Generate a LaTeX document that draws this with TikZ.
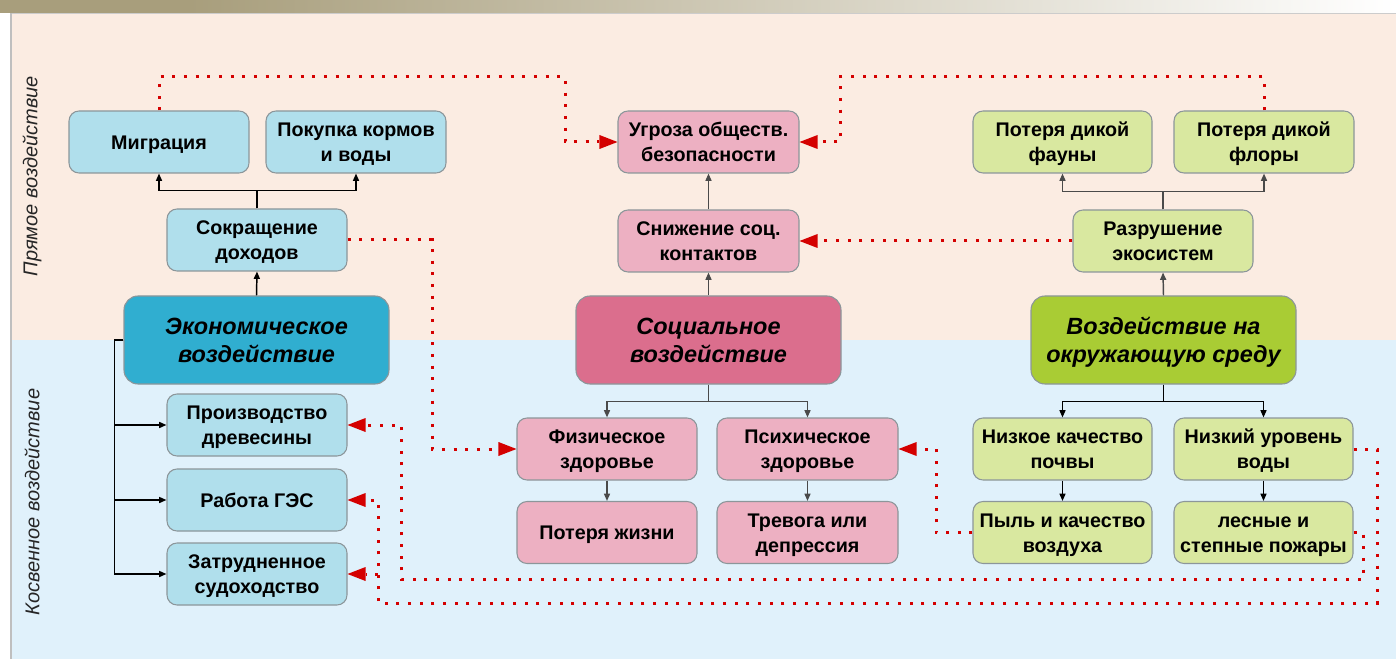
\documentclass[tikz,border=0pt]{standalone}
\usepackage{fontspec}
\setmainfont{Liberation Sans}
\usetikzlibrary{arrows.meta}
\definecolor{olive}{RGB}{168,158,124}
\definecolor{peach}{RGB}{251,236,226}
\definecolor{skyb}{RGB}{224,241,251}
\definecolor{lblue}{RGB}{176,223,236}
\definecolor{econc}{RGB}{48,174,208}
\definecolor{lpink}{RGB}{237,176,194}
\definecolor{socc}{RGB}{219,110,141}
\definecolor{lgreen}{RGB}{217,232,160}
\definecolor{envc}{RGB}{169,204,52}
\definecolor{bord}{RGB}{140,150,154}
\definecolor{dred}{RGB}{212,0,0}
\definecolor{darkg}{RGB}{74,74,74}
\begin{document}
\begin{tikzpicture}[x=0.75pt,y=-0.75pt,
  box/.style={draw=bord, line width=0.8pt, rounded corners=7.5pt, minimum width=135pt, minimum height=46.5pt, inner sep=0pt, align=center, text=black, font=\bfseries\fontsize{14.8}{18.75}\selectfont, text height=29.4pt, text depth=0pt},
  one/.style={text height=10.65pt},
  mainbox/.style={draw=bord, line width=0.8pt, rounded corners=10.5pt, minimum width=198.75pt, minimum height=66pt, inner sep=0pt, align=center, text=black, font=\bfseries\itshape\fontsize{17.6}{20.5}\selectfont, text height=33.2pt, text depth=0pt},
  bbox/.style={box, fill=lblue},
  pbox/.style={box, fill=lpink},
  gbox/.style={box, fill=lgreen},
  ar/.style={-{Triangle[length=5.5pt,width=4.5pt]}, line width=1.1pt},
  dots/.style={draw=dred, line width=2.25pt, dash pattern=on 2.25pt off 6.5pt, -{Triangle[length=13.5pt,width=10.5pt,line width=0pt]}},
  side/.style={rotate=90, font=\itshape\fontsize{15}{18}\selectfont, text=black!85}
]
\useasboundingbox (0,0) rectangle (1396,659);
% background
\fill[white] (0,0) rectangle (1396,659);
\fill[olive] (0,0) rectangle (190,13);
\shade[left color=olive, right color=white] (189,0) rectangle (1396,13);
\fill[peach] (11,13) rectangle (1396,340);
\fill[skyb] (11,340) rectangle (1396,659);
\draw[black!20, line width=0.8pt] (11,13.5) -- (1396,13.5);
\draw[black!25, line width=0.8pt] (11,13) -- (11,659);
% side labels
\node[side] (lab1) at (32,176) {Прямое воздействие};
\node[side] (lab2) at (32,502) {Косвенное воздействие};
% economic
\node[bbox, one] (mig) at (159,142) {Миграция};
\node[bbox] (pok) at (356,142) {Покупка кормов\\и воды};
\node[bbox] (sok) at (257,240) {Сокращение\\доходов};
\node[mainbox, fill=econc] (econ) at (256.5,340) {Экономическое\\воздействие};
\node[bbox] (proiz) at (257,425) {Производство\\древесины};
\node[bbox, one] (ges) at (257,500) {Работа ГЭС};
\node[bbox] (sud) at (257,574) {Затрудненное\\судоходство};
% social
\node[pbox, minimum width=135.75pt] (ugr) at (708.5,142) {Угроза обществ.\\безопасности};
\node[pbox, minimum width=135.75pt] (sni) at (708.5,241) {Снижение соц.\\контактов};
\node[mainbox, fill=socc] (soc) at (708.5,340) {Социальное\\воздействие};
\node[pbox] (fiz) at (607,449) {Физическое\\здоровье};
\node[pbox, minimum width=135.75pt] (psi) at (807.5,449) {Психическое\\здоровье};
\node[pbox, one] (pot) at (607,532.5) {Потеря жизни};
\node[pbox, minimum width=135.75pt] (trev) at (807.5,532.5) {Тревога или\\депрессия};
% environment
\node[gbox, minimum width=134.25pt] (fau) at (1062.5,142) {Потеря дикой\\фауны};
\node[gbox] (flo) at (1264,142) {Потеря дикой\\флоры};
\node[gbox] (raz) at (1163,241) {Разрушение\\экосистем};
\node[mainbox, fill=envc] (env) at (1163.5,340) {Воздействие на\\окружающую среду};
\node[gbox, minimum width=134.25pt] (poch) at (1062.5,449) {Низкое качество\\почвы};
\node[gbox, minimum width=134.25pt] (vod) at (1263.5,449) {Низкий уровень\\воды};
\node[gbox, minimum width=134.25pt] (pyl) at (1062.5,532.5) {Пыль и качество\\воздуха};
\node[gbox, minimum width=134.25pt] (les) at (1263.5,532.5) {лесные и\\степные пожары};
% economic arrows
\draw[ar] (econ.north) -- (sok.south);
\draw[ar] (sok.north) -- ++(0,-18) -| (mig.south);
\draw[ar] (sok.north) -- ++(0,-18) -| (pok.south);
\draw[ar] (econ.west) -- ++(-9,0) |- (proiz.west);
\draw[ar] (econ.west) -- ++(-9,0) |- (ges.west);
\draw[ar] (econ.west) -- ++(-9,0) |- (sud.west);
% social arrows
\draw[ar, darkg] (soc.north) -- (sni.south);
\draw[ar, darkg] (sni.north) -- (ugr.south);
\draw[ar, darkg] (soc.south) -- ++(0,17) -| (fiz.north);
\draw[ar, darkg] (soc.south) -- ++(0,17) -| (psi.north);
\draw[ar, darkg] (fiz.south) -- (pot.north);
\draw[ar, darkg] (psi.south) -- (trev.north);
% environment arrows
\draw[ar, darkg] (env.north) -- (raz.south);
\draw[ar, darkg] (raz.north) -- ++(0,-18) -| (fau.south);
\draw[ar, darkg] (raz.north) -- ++(0,-18) -| (flo.south);
\draw[ar] (env.south) -- ++(0,17) -| (poch.north);
\draw[ar] (env.south) -- ++(0,17) -| (vod.north);
\draw[ar] (poch.south) -- (pyl.north);
\draw[ar] (vod.south) -- (les.north);
% dotted cross links
\draw[dots] (mig.north) |- (565,77) |- (ugr.west);
\draw[dots] (flo.north) |- (840,77) |- (ugr.east);
\draw[dots] (sok.east) -| (432,449) -- (fiz.west);
\draw[dots] (raz.west) -- (sni.east);
\draw[dots] (pyl.west) -| (936,449) -- (psi.east);
\draw[dots] (vod.east) -| (1377,603) -| (378,500) -- (ges.east);
\draw[dots] (378,574) -- (sud.east);
\draw[dots] (les.east) -| (1363,579) -| (401,425) -- (proiz.east);
\end{tikzpicture}
\end{document}
